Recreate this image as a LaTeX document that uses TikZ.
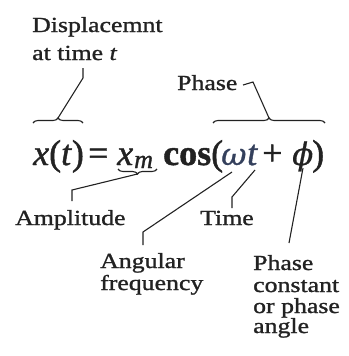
\documentclass[tikz,border=0pt]{standalone}
\usepackage{fontspec}
\setmainfont{Liberation Serif}
\newfontfamily\lblfont[FakeStretch=1.2,FakeBold=1.2]{Liberation Serif}
\newfontfamily\eqfont[FakeBold=1.2]{Liberation Serif}
\newfontfamily\grfont[FakeBold=0.8]{DejaVu Serif}
\usetikzlibrary{decorations.pathreplacing}
\definecolor{ink}{HTML}{222222}
\definecolor{greek}{HTML}{34405C}
\begin{document}
\begin{tikzpicture}[x=1pt,y=-1pt,
  lbl/.style={font=\lblfont\fontsize{21.5}{21.5}\selectfont, text=ink, inner sep=0pt, anchor=base west},
  eqp/.style={font=\eqfont\fontsize{36}{36}\selectfont, text=ink, inner sep=0pt, anchor=base west},
  grp/.style={font=\grfont\fontsize{31}{31}\selectfont, text=ink, inner sep=0pt, anchor=base west},
  subp/.style={font=\eqfont\fontsize{26}{26}\selectfont, text=ink, inner sep=0pt, anchor=base west},
  conn/.style={line width=1.1pt, draw=ink},
  brc/.style={decorate, decoration={brace, amplitude=5pt}, line width=1.1pt, draw=ink},
  brcm/.style={decorate, decoration={brace, mirror, amplitude=5pt}, line width=1.1pt, draw=ink}]
\useasboundingbox (0,0) rectangle (348,356);

% labels
\node[lbl] (disp1) at (32,32) {Displacemnt};
\node[lbl] (disp2) at (32,60) {at time \textit{t}};
\node[lbl] (phase) at (177,90) {Phase};
\node[lbl] (ampl) at (15,225) {Amplitude};
\node[lbl] (time) at (200,225) {Time};
\node[lbl] (ang1) at (100,268) {Angular};
\node[lbl] (ang2) at (100,290) {frequency};
\node[lbl] (pc1) at (253,270) {Phase};
\node[lbl] (pc2) at (253,292) {constant};
\node[lbl] (pc3) at (253,313) {or phase};
\node[lbl] (pc4) at (253,333) {angle};

% equation
\node[eqp] (xt) at (33,165) {\textit{x}(\textit{t})};
\node[eqp] (eq) at (88,165) {=};
\node[eqp] (xm) at (117,165) {\textit{x}};
\node[subp] (m) at (134,168) {\textit{m}};
\node[eqp] (cos) at (163,165) {\textbf{cos}};
\node[eqp] (lp) at (211,165) {(};
\node[grp,text=greek] (om) at (221,165) {\textit{ω}};
\node[eqp,text=greek] (tt) at (247,165) {\textit{t}};
\node[eqp] (plus) at (262,165) {+};
\node[grp] (ph) at (292,165) {\textit{ϕ}};
\node[eqp] (rp) at (312,165) {)};

% braces
\draw[brc] (33,123) -- (83,123);
\draw[brc] (213,123) -- (325,123);
\draw[brcm] (118,169) -- (157,169);

% connector points
\coordinate (dA) at (83,68);
\coordinate (dB) at (83,78);
\coordinate (dT) at (58,118);
\coordinate (pA) at (243,85);
\coordinate (pB) at (253,82);
\coordinate (pT) at (269,118);
\coordinate (aT) at (137.5,174);
\coordinate (aB) at (72,190);
\coordinate (aE) at (72,201);
\coordinate (oT) at (232,172);
\coordinate (oB) at (143,232);
\coordinate (oE) at (143,245);
\coordinate (tT) at (255,170);
\coordinate (tB) at (232,197);
\coordinate (tE) at (232,208);
\coordinate (fT) at (303,168);
\coordinate (fE) at (289,243);

\draw[conn] (dA) -- (dB) -- (dT);
\draw[conn] (pA) -- (pB) -- (pT);
\draw[conn] (aT) -- (aB) -- (aE);
\draw[conn] (oT) -- (oB) -- (oE);
\draw[conn] (tT) -- (tB) -- (tE);
\draw[conn] (fT) -- (fE);
\end{tikzpicture}
\end{document}
